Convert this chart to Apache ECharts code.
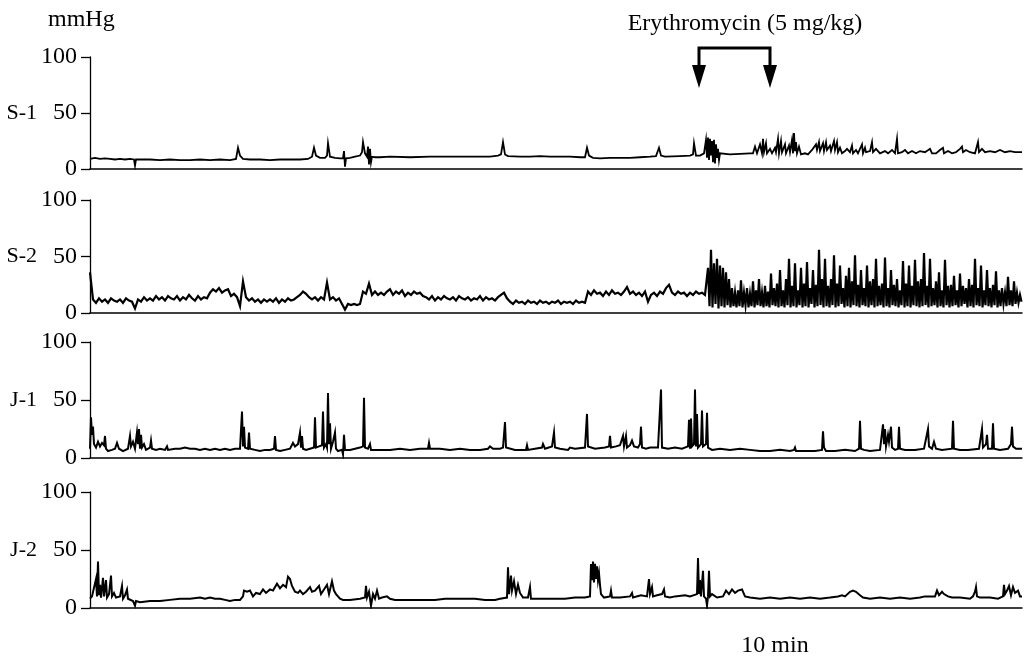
<!DOCTYPE html>
<html><head><meta charset="utf-8">
<script src="https://cdn.jsdelivr.net/npm/echarts@6/dist/echarts.min.js"></script>
<style>html,body{margin:0;padding:0;background:#fff}#c{width:1024px;height:661px}</style>
</head><body><div id="c"></div>
<script>
// Panel names and unit
const panelNames = ['S-1', 'S-2', 'J-1', 'J-2'];
const unitLabel = 'mmHg';
const yTicks = [0, 50, 100];
const drugLabel = 'Erythromycin (5 mg/kg)';
const timeLabel = '10 min';
const drugTimes = [609, 680];      // time units (same scale as traces)
const drugLabelAt = 655;
const timeLabelAt = 685;
const timeMax = 932;

// S-1 trace: [time, mmHg]
const s1Data = [[0,9],[5,10],[10,9],[15,9.5],[20,9],[25,8.5],[30,9],[35,8.5],[40,9],[44,8.5],[45,3],[46,8.5],[50,8.5],[60,8.5],[70,8],[80,8.5],[90,8],[100,8],[110,8.5],[120,8],[130,8.5],[140,8],[146,9],[148,19],[150,12],[153,9],[160,8.5],[170,8.5],[180,8],[190,8.5],[200,8.5],[210,8.5],[218,9],[222,11],[224,19],[226,12],[230,10],[235,10],[237,12],[238,23],[240,11],[245,10],[250,9.5],[253,9.5],[254,16],[255,2],[256,9.5],[260,10],[265,11],[270,12],[272,15],[273,24],[275,14],[277,11],[278,20],[279,4],[280,18],[281,6],[282,11],[285,10.5],[290,10.5],[300,11],[320,10.5],[340,11],[360,11],[380,11],[400,11],[408,12],[411,13],[413,24],[415,13],[418,11.5],[430,11],[436,11],[437,12.5],[440,11],[450,11.5],[460,11],[470,11],[480,11],[490,10.5],[495,10.5],[497,19],[499,12],[503,10],[510,9.5],[520,10],[530,10],[540,10],[550,10.5],[560,11],[566,11.5],[569,19],[571,12],[575,11],[590,11.5],[600,12],[603,13],[604,23],[606,12],[610,12],[614,14],[616,26],[617,10],[618,28],[619,8],[620,27],[621,12],[622,25],[623,6],[624,26],[625,5],[626,22],[627,10],[628,18],[629,8],[630,14],[632,13],[640,13],[650,13.5],[660,14],[663,14],[665,20],[667,14],[670,22],[672,14],[673,27],[674,15],[676,23],[677,14],[680,18],[682,14],[685,19],[686,15],[688,27],[689,14],[691,25],[692,15],[695,22],[696,14],[699,21],[700,15],[702,26],[703,14],[704,32],[705,16],[706,24],[707,14],[709,20],[711,13],[715,14],[718,13],[720,15],[722,17],[726,22],[727,17],[729,24],[730,16],[733,23],[734,16],[736,24],[737,17],[740,21],[741,16],[744,25],[745,17],[747,24],[748,15],[750,19],[752,14],[755,16],[757,18],[760,15],[762,21],[763,14],[766,17],[768,14],[772,22],[773,14],[775,19],[776,15],[780,16],[782,24],[783,15],[786,18],[790,14],[795,16],[798,14],[802,17],[805,14],[807,27],[808,14],[812,15],[815,17],[818,14],[822,16],[826,14],[830,16],[835,15],[840,18],[842,14],[846,14],[850,17],[853,19],[854,14],[858,16],[862,14],[866,15],[870,18],[872,20],[873,15],[876,17],[880,15],[885,14],[888,24],[889,15],[892,18],[895,15],[900,16],[905,15],[910,17],[915,15],[920,16],[925,15],[932,15]];

// S-2 trace before erythromycin burst: mmHg sampled every 3 time units from 0
const s2PreStep = 3;
const s2PreValues = [
36,12,9,13,10,12,9,13,11,10,12,9,13,11,10,4,12,10,14,11,
13,11,15,12,14,11,15,13,12,15,11,14,12,16,13,11,15,12,14,13,
18,21,19,22,18,20,21,15,17,14,6,28,14,11,13,10,12,9,12,10,
12,10,13,9,12,10,13,11,12,14,16,19,17,14,12,14,11,14,12,27,
12,14,11,13,8,3,8,7,8,7,8,19,17,26,16,19,16,18,16,19,
21,16,19,17,20,15,18,16,19,17,18,15,14,12,15,11,14,12,15,13,
12,14,11,15,13,12,14,11,13,12,15,11,14,12,13,11,14,16,18,13,
10,8,11,9,10,8,11,9,10,8,11,9,10,8,10,9,11,8,10,9,
10,8,11,9,10,9,19,16,20,17,18,15,19,16,20,17,18,16,19,23,
17,19,16,18,15,19,10,16,18,15,19,17,22,25,18,16,19,17,18,15,
18,16,19,17,18,16];

// S-2 trace after erythromycin: mmHg sampled every 1.5 time units from 618
const s2PostStart = 618;
const s2PostStep = 1.5;
const s2PostValues = [
40,6,56,5,44,8,48,4,42,6,40,5,36,7,30,5,22,6,18,5,
20,6,29,5,18,7,22,5,17,6,28,5,20,7,30,6,18,5,24,6,
19,5,35,7,22,6,26,5,38,6,20,5,30,7,48,5,24,6,44,5,
20,7,40,5,26,6,45,5,22,8,38,5,25,6,56,7,30,5,48,6,
24,5,30,7,51,5,26,6,42,8,22,5,33,6,40,5,28,7,51,6,
25,5,38,7,22,6,42,5,28,7,30,5,48,6,24,7,26,5,49,6,
22,5,38,7,25,6,30,5,20,7,46,5,26,6,42,5,24,7,47,6,
28,5,30,6,53,7,24,5,48,6,22,7,28,5,36,6,20,5,47,7,
24,5,25,6,33,7,20,5,35,6,24,8,22,5,30,6,25,5,48,7,
22,6,42,5,20,7,38,6,22,5,25,7,37,5,20,6,22,8,18,6,
32,7,20,6,28,8,18,9,16,10];

// J-1 trace: [time, mmHg]
const j1Data = [[0,8],[1,35],[2,20],[3,27],[4,12],[6,9],[8,14],[10,10],[12,13],[14,11],[15,19],[16,8],[18,6],[22,7],[25,8],[27,13],[29,8],[33,6],[38,8],[40,19],[41,10],[43,14],[45,8],[47,22],[48,12],[49,25],[50,8],[51,20],[52,9],[54,12],[56,7],[60,9],[61,15],[62,8],[66,7],[70,8],[75,7],[77,10],[78,7],[85,8],[90,8],[95,9],[100,8],[105,8],[110,7],[115,8],[120,7],[125,8],[130,7],[135,8],[140,7],[145,8],[150,8],[152,40],[153,10],[154,27],[155,9],[158,8],[159,22],[160,8],[165,7],[170,6],[175,7],[180,7],[184,8],[185,19],[186,7],[190,6],[195,7],[200,8],[203,13],[205,10],[208,12],[210,22],[211,9],[212,19],[213,8],[216,7],[220,8],[224,9],[225,35],[226,9],[229,10],[232,11],[233,40],[234,9],[236,12],[237,9],[238,56],[239,12],[240,30],[241,8],[243,14],[245,22],[246,8],[248,6],[252,7],[253,3],[254,20],[255,7],[260,7],[265,8],[270,9],[273,10],[274,52],[275,9],[278,8],[280,12],[281,7],[290,7],[300,7],[310,8],[320,7],[330,8],[338,8],[339,13],[340,8],[350,8],[360,7],[370,8],[380,7],[390,7],[398,8],[400,10],[403,8],[410,8],[413,9],[415,31],[416,9],[418,8],[425,7],[436,7],[437,11],[438,7],[445,8],[452,9],[453,12],[455,8],[462,10],[464,22],[465,9],[470,8],[478,7],[480,9],[485,8],[495,9],[497,38],[498,10],[505,8],[515,9],[519,10],[520,19],[521,9],[526,10],[530,11],[533,19],[534,10],[536,19],[537,9],[540,11],[542,15],[544,10],[548,9],[550,12],[551,27],[552,9],[556,8],[560,9],[568,9],[570,10],[571,59],[572,9],[578,8],[585,9],[592,8],[598,10],[599,33],[600,8],[601,34],[602,10],[604,12],[605,59],[606,10],[607,38],[608,9],[611,12],[612,41],[613,10],[616,12],[617,39],[618,9],[622,7],[630,8],[640,7],[650,8],[660,7],[670,6],[680,6],[690,7],[700,6],[704,7],[705,9],[706,6],[715,6],[725,6],[732,7],[733,23],[734,9],[736,6],[745,6],[755,7],[765,6],[769,8],[770,32],[771,8],[774,7],[780,6],[790,7],[792,8],[793,29],[794,12],[795,25],[796,10],[798,20],[799,14],[801,27],[802,9],[805,7],[808,8],[809,27],[810,8],[815,7],[825,7],[834,8],[838,25],[839,10],[842,8],[844,14],[846,8],[852,7],[862,8],[863,32],[864,8],[870,7],[878,7],[889,8],[892,25],[893,9],[896,12],[897,20],[898,8],[902,8],[903,30],[904,8],[910,7],[918,8],[921,12],[922,27],[923,10],[926,8],[932,8]];

// J-2 trace: [time, mmHg]
const j2Data = [[0,8],[2,10],[4,9],[6,25],[7,10],[8,40],[9,11],[10,20],[11,9],[13,26],[14,10],[16,24],[17,9],[19,12],[21,28],[22,10],[24,13],[26,9],[30,10],[32,19],[33,8],[35,11],[37,16],[38,8],[40,7],[43,6],[45,2],[46,6],[50,5],[60,6],[70,6],[80,7],[90,8],[100,8],[110,9],[115,8],[120,9],[125,8],[130,8],[135,7],[140,6],[145,7],[150,7],[153,10],[154,15],[157,14],[160,15],[163,10],[166,13],[170,12],[173,16],[176,13],[180,16],[183,15],[187,21],[190,17],[193,20],[196,18],[198,27],[200,25],[202,19],[205,14],[208,13],[210,15],[213,12],[216,14],[220,18],[222,14],[225,15],[229,19],[231,12],[234,16],[237,20],[239,12],[242,23],[244,15],[246,12],[250,8],[253,7],[260,7],[270,8],[275,9],[276,19],[277,9],[279,14],[281,2],[283,12],[285,8],[287,15],[289,8],[292,9],[297,10],[300,8],[305,7],[315,7],[325,7],[335,7],[345,7],[355,8],[365,8],[375,8],[385,8],[395,7],[405,7],[410,8],[417,9],[418,35],[419,12],[421,28],[422,15],[424,23],[426,12],[428,20],[430,13],[433,9],[438,9],[440,18],[441,8],[446,8],[455,8],[465,8],[475,8],[485,9],[495,9],[500,10],[501,38],[502,24],[503,40],[504,22],[505,38],[506,25],[507,36],[508,24],[509,30],[510,20],[511,12],[514,9],[520,10],[521,15],[522,9],[530,9],[540,10],[542,13],[543,9],[551,11],[552,12],[553,10],[557,10],[559,25],[560,12],[562,18],[563,10],[567,11],[572,12],[574,16],[575,10],[580,9],[585,10],[595,11],[600,10],[607,12],[608,43],[609,12],[610,24],[611,10],[613,32],[614,10],[616,8],[617,2],[618,10],[619,32],[620,10],[622,12],[627,9],[633,10],[636,15],[639,12],[642,16],[645,13],[648,15],[652,16],[655,10],[660,9],[670,8],[680,9],[690,8],[700,9],[710,8],[720,9],[730,8],[740,9],[748,10],[752,11],[755,10],[760,14],[763,15],[766,14],[770,11],[773,9],[780,8],[790,9],[800,8],[810,9],[820,8],[830,9],[835,10],[845,10],[847,15],[849,11],[852,14],[854,12],[856,13],[858,10],[862,9],[870,9],[880,8],[883,10],[885,14],[886,18],[887,10],[890,9],[900,9],[908,8],[913,10],[914,20],[915,12],[917,15],[919,19],[921,11],[923,18],[925,13],[928,15],[930,10],[932,10]];

const s2Data = s2PreValues.map((v, i) => [i * s2PreStep, v])
  .concat(s2PostValues.map((v, i) => [s2PostStart + i * s2PostStep, v]));
const traces = [s1Data, s2Data, j1Data, j2Data];
const traceWidths = [1.8, 2.2, 2, 2];

const FONT = '"Liberation Serif", "DejaVu Serif", serif';
const gridBoxes = [
  {top: 57, height: 112},
  {top: 200, height: 113},
  {top: 342, height: 116},
  {top: 492, height: 116}
];

const chart = echarts.init(document.getElementById('c'), null, {renderer: 'canvas'});
const option = {
  animation: false,
  backgroundColor: '#fff',
  grid: gridBoxes.map(g => ({left: 90, right: 2, top: g.top, height: g.height})),
  xAxis: gridBoxes.map((g, i) => ({
    type: 'value', gridIndex: i, min: 0, max: timeMax,
    axisLine: {show: true, onZero: false, lineStyle: {color: '#000', width: 1.5}},
    axisTick: {show: false}, axisLabel: {show: false}, splitLine: {show: false}
  })),
  yAxis: gridBoxes.map((g, i) => ({
    type: 'value', gridIndex: i, min: 0, max: 100, interval: 50,
    axisLine: {show: true, lineStyle: {color: '#000', width: 1.3}},
    axisTick: {show: true, length: 9, lineStyle: {color: '#000', width: 1.3}},
    axisLabel: {color: '#000', fontFamily: FONT, fontSize: 24, margin: 13},
    splitLine: {show: false}
  })),
  series: traces.map((d, i) => ({
    type: 'line', xAxisIndex: i, yAxisIndex: i, data: d,
    showSymbol: false, symbol: 'none', sampling: null,
    lineStyle: {color: '#000', width: traceWidths[i], join: 'miter'}, z: 3
  }))
};
chart.setOption(option);

// Annotations anchored to the axes
const g = [];
const txt = (text, x, y, align, size) => ({
  type: 'text', x: x, y: y,
  style: {text: text, fill: '#000', font: size + 'px ' + FONT, textAlign: align, textVerticalAlign: 'middle'}
});
panelNames.forEach((name, i) => {
  const p = chart.convertToPixel({gridIndex: i}, [0, 50]);
  g.push(txt(name, 37, p[1], 'right', 22));
});
g.push(txt(unitLabel, 48, 20, 'left', 24));
const a1 = chart.convertToPixel({gridIndex: 0}, [drugTimes[0], 100]);
const a2 = chart.convertToPixel({gridIndex: 0}, [drugTimes[1], 100]);
const lab = chart.convertToPixel({gridIndex: 0}, [drugLabelAt, 100]);
g.push(txt(drugLabel, lab[0], 24, 'center', 24));
const yTop = 48, yArr = 65, yTip = 88, hw = 7;
g.push({type: 'polyline', shape: {points: [[a1[0], yArr], [a1[0], yTop], [a2[0], yTop], [a2[0], yArr]]},
  style: {stroke: '#000', lineWidth: 3, fill: null}});
[a1[0], a2[0]].forEach(x => {
  g.push({type: 'polygon', shape: {points: [[x - hw, yArr], [x + hw, yArr], [x, yTip]]}, style: {fill: '#000'}});
});
const bot = chart.convertToPixel({gridIndex: 3}, [timeLabelAt, 0]);
g.push(txt(timeLabel, bot[0], 646, 'center', 24));
chart.setOption({graphic: g});
</script>
</body></html>
